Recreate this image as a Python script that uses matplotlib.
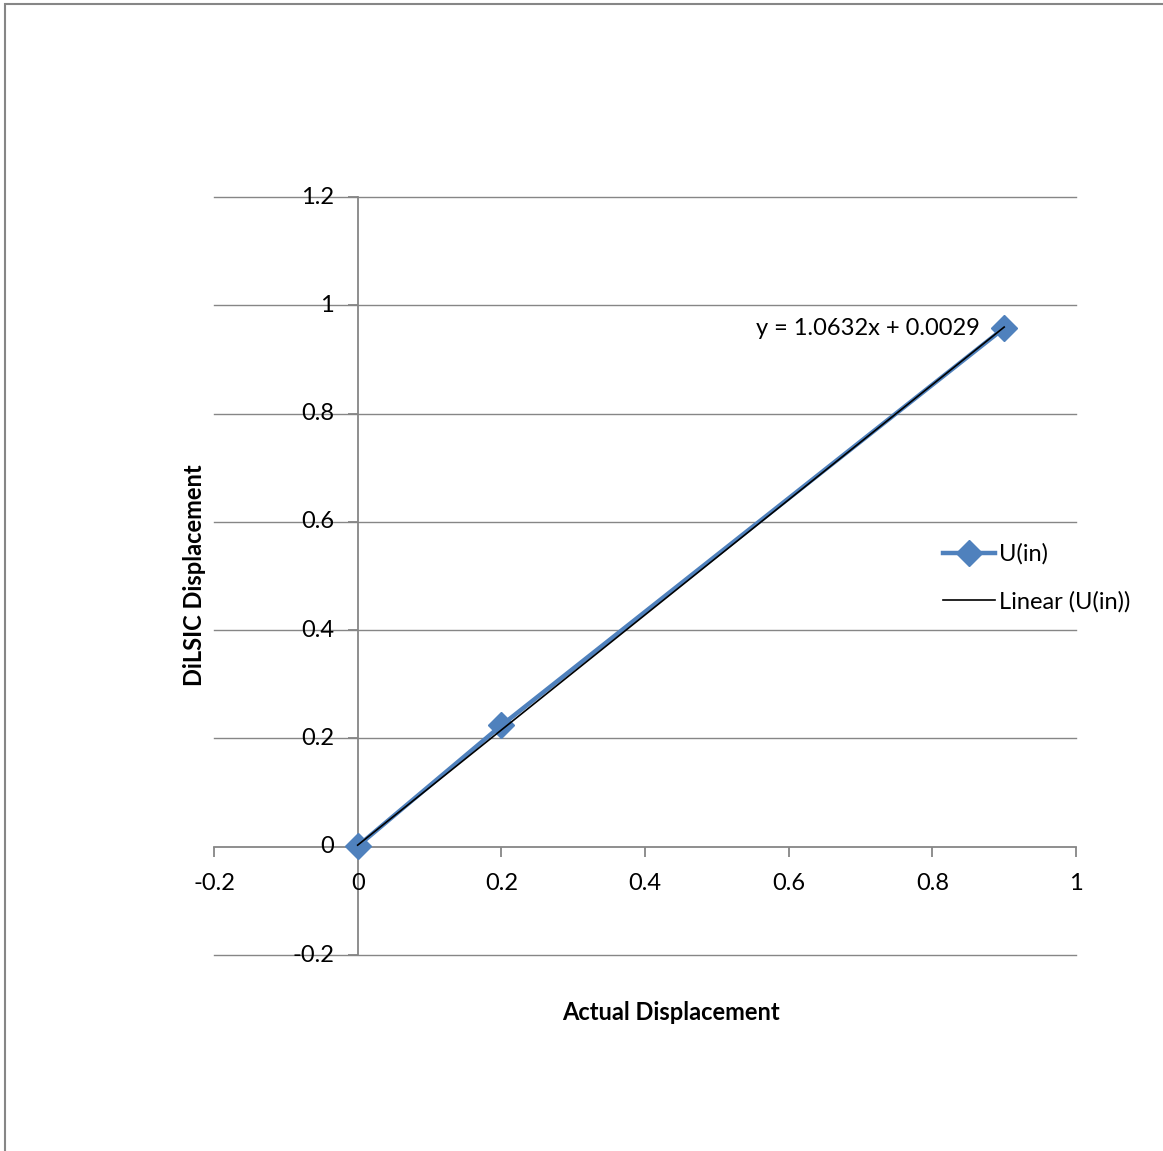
import matplotlib
matplotlib.use("Agg")
import matplotlib.pyplot as plt
import numpy as np
from matplotlib.patches import Rectangle
from matplotlib.lines import Line2D

plt.rcParams['font.family'] = ['Lato', 'DejaVu Sans']

# Measured displacements
actual = [0.0, 0.2, 0.9]
dilsic = [0.001, 0.224, 0.958]

# Linear trendline coefficients
slope = 1.0632
intercept = 0.0029

x_ticks = [-0.2, 0, 0.2, 0.4, 0.6, 0.8, 1]
y_ticks = [-0.2, 0, 0.2, 0.4, 0.6, 0.8, 1, 1.2]
x_tick_labels = ["-0.2", "0", "0.2", "0.4", "0.6", "0.8", "1"]
y_tick_labels = ["-0.2", "0", "0.2", "0.4", "0.6", "0.8", "1", "1.2"]

FS = 17
W, H = 1163, 1151
fig = plt.figure(figsize=(W / 100, H / 100), dpi=100)

# Chart border
fig.patches.append(Rectangle((4.5 / W, -0.1), 1.2, 1.1 - 4.5 / H, transform=fig.transFigure,
                             fill=False, edgecolor='#868686', linewidth=1.5))

ax = fig.add_axes([214 / W, 1 - 955 / H, (1076 - 214) / W, (955 - 197) / H])
ax.set_xlim(-0.2, 1.0)
ax.set_ylim(-0.2, 1.2)

grid_color = '#868686'
for yv in y_ticks:
    if yv != 0:
        ax.axhline(yv, color=grid_color, linewidth=1.0, zorder=1, clip_on=False)

for side in ['top', 'right']:
    ax.spines[side].set_visible(False)
ax.spines['left'].set_position(('data', 0))
ax.spines['bottom'].set_position(('data', 0))
for side in ['left', 'bottom']:
    ax.spines[side].set_color(grid_color)
    ax.spines[side].set_linewidth(1.3)
ax.spines['left'].set_zorder(1)
ax.spines['bottom'].set_zorder(1)

ax.set_xticks(x_ticks)
ax.set_xticklabels(x_tick_labels)
ax.set_yticks(y_ticks)
ax.set_yticklabels(y_tick_labels)
ax.tick_params(axis='x', direction='out', length=7, width=1.3, color=grid_color,
               labelsize=FS, pad=12)
ax.tick_params(axis='y', direction='out', length=7, width=1.3, color=grid_color,
               labelsize=FS, pad=10)
for lab in ax.get_yticklabels():
    lab.set_verticalalignment('center')

# Data series
ax.plot(actual, dilsic, color='#4F81BD', linewidth=3.2, marker='D', markersize=13,
        markeredgecolor='#4F81BD', zorder=3, clip_on=False)

# Trendline
tx = np.array([min(actual), max(actual)])
ax.plot(tx, slope * tx + intercept, color='black', linewidth=1.2, zorder=4)

ax.text(0.866, 0.958, f"y = {slope}x + {intercept}", fontsize=FS, ha='right', va='center',
        zorder=5)

fig.text(671 / W, 1 - 1012 / H, "Actual Displacement", fontsize=FS, fontweight='bold',
         ha='center', va='center')
fig.text(195 / W, 1 - 575 / H, "DiLSIC Displacement", fontsize=FS, fontweight='bold',
         ha='center', va='center', rotation=90)

handles = [
    Line2D([], [], color='#4F81BD', linewidth=3.2, marker='D', markersize=13),
    Line2D([], [], color='black', linewidth=1.2),
]
fig.legend(handles, ["U(in)", "Linear (U(in))"], loc='center left',
           bbox_to_anchor=(931 / W, 1 - 578 / H), frameon=False, fontsize=FS,
           handlelength=2.2, handletextpad=0.2, labelspacing=1.1, borderpad=0)

fig.savefig("out.png", dpi=100)
